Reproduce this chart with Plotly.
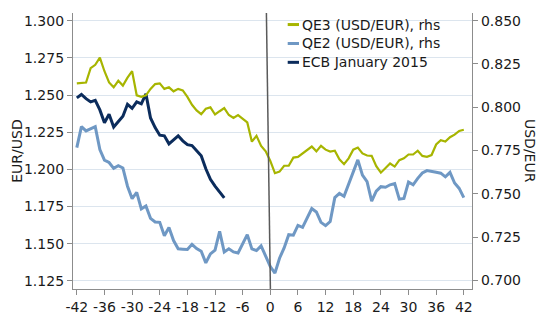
import plotly.graph_objects as go

# ---------------- data ----------------
weeks_qe = list(range(-42, 43))          # weeks relative to announcement
weeks_ecb = list(range(-42, -9))

qe3_usd_eur = [
    0.8138, 0.8139, 0.8143, 0.8226, 0.8245, 0.8287, 0.8208, 0.8143, 0.8115, 0.8153,
    0.8125, 0.8171, 0.8208, 0.8069, 0.8060, 0.8069, 0.8106, 0.8134, 0.8138, 0.8106,
    0.8115, 0.8092, 0.8106, 0.8097, 0.8060, 0.8014, 0.7982, 0.7960, 0.7991, 0.7999,
    0.7958, 0.7977, 0.7995, 0.7955, 0.7938, 0.7955, 0.7932, 0.7912, 0.7801, 0.7835,
    0.7777, 0.7745, 0.7690, 0.7619, 0.7628, 0.7662, 0.7662, 0.7709, 0.7713, 0.7734,
    0.7750, 0.7773, 0.7745, 0.7777, 0.7755, 0.7744, 0.7749, 0.7699, 0.7671, 0.7705,
    0.7755, 0.7767, 0.7733, 0.7721, 0.7719, 0.7660, 0.7622, 0.7647, 0.7675, 0.7657,
    0.7694, 0.7705, 0.7727, 0.7727, 0.7749, 0.7719, 0.7714, 0.7724, 0.7785, 0.7810,
    0.7802, 0.7827, 0.7842, 0.7863, 0.7870,
]

qe2_usd_eur = [
    0.7767, 0.7888, 0.7863, 0.7877, 0.7888, 0.7755, 0.7694, 0.7681, 0.7647, 0.7662,
    0.7649, 0.7544, 0.7472, 0.7508, 0.7413, 0.7430, 0.7358, 0.7337, 0.7335, 0.7258,
    0.7305, 0.7230, 0.7182, 0.7180, 0.7178, 0.7208, 0.7184, 0.7168, 0.7101, 0.7153,
    0.7175, 0.7283, 0.7164, 0.7182, 0.7164, 0.7158, 0.7211, 0.7264, 0.7182, 0.7172,
    0.7199, 0.7144, 0.7080, 0.7042, 0.7128, 0.7187, 0.7264, 0.7261, 0.7317, 0.7306,
    0.7357, 0.7415, 0.7395, 0.7335, 0.7316, 0.7340, 0.7478, 0.7502, 0.7486, 0.7560,
    0.7622, 0.7696, 0.7608, 0.7570, 0.7458, 0.7515, 0.7541, 0.7538, 0.7552, 0.7559,
    0.7469, 0.7473, 0.7568, 0.7552, 0.7589, 0.7620, 0.7634, 0.7631, 0.7624, 0.7619,
    0.7598, 0.7624, 0.7562, 0.7531, 0.7478,
]

ecb_eur_usd = [
    1.2481, 1.2504, 1.2476, 1.2454, 1.2465, 1.2400, 1.2314, 1.2371, 1.2285, 1.2318,
    1.2357, 1.2438, 1.2411, 1.2454, 1.2441, 1.2508, 1.2346, 1.2281, 1.2230, 1.2226,
    1.2172, 1.2199, 1.2226, 1.2192, 1.2166, 1.2160, 1.2124, 1.2092, 1.2004, 1.1933,
    1.1888, 1.1846, 1.1808,
]

x_ticks = list(range(-42, 43, 6))
left_ticks = [1.125, 1.150, 1.175, 1.200, 1.225, 1.250, 1.275, 1.300]
right_ticks = [0.700, 0.725, 0.750, 0.775, 0.800, 0.825, 0.850]

names = ["QE3 (USD/EUR), rhs", "QE2 (USD/EUR), rhs", "ECB January 2015"]
colors = ["#a7b500", "#6f98c4", "#0b2c5c"]

# ---------------- figure ----------------
FONT = "DejaVu Sans"
AXIS = "#8c8c8c"
GRID = "#dce5ee"
TXT = "#1a1a1a"

fig = go.Figure()
fig.add_trace(go.Scatter(x=weeks_qe, y=qe3_usd_eur, yaxis="y2", mode="lines",
                         name=names[0], line=dict(color=colors[0], width=2.2)))
fig.add_trace(go.Scatter(x=weeks_qe, y=qe2_usd_eur, yaxis="y2", mode="lines",
                         name=names[1], line=dict(color=colors[1], width=3)))
fig.add_trace(go.Scatter(x=weeks_ecb, y=ecb_eur_usd, yaxis="y", mode="lines",
                         name=names[2], line=dict(color=colors[2], width=3)))

fig.update_layout(
    width=550, height=327,
    margin=dict(l=73, r=78, t=13, b=27),
    paper_bgcolor="white", plot_bgcolor="white",
    showlegend=False,
    font=dict(family=FONT, size=14, color=TXT),
    xaxis=dict(range=[-42.83, 43.78], tickvals=x_ticks, ticktext=[str(t) for t in x_ticks],
               showgrid=False, zeroline=False, showline=True, linecolor=AXIS, linewidth=1.3,
               ticks="outside", ticklen=5, tickcolor=AXIS, tickwidth=1,
               tickfont=dict(family=FONT, size=14, color=TXT)),
    yaxis=dict(range=[1.11956, 1.30518], tickvals=left_ticks,
               ticktext=[f"{t:.3f}" for t in left_ticks],
               showgrid=True, gridcolor=GRID, gridwidth=1.3, zeroline=False,
               showline=True, linecolor=AXIS, linewidth=1.3,
               ticks="outside", ticklen=5, tickcolor=AXIS, tickwidth=1,
               tickfont=dict(family=FONT, size=14, color=TXT)),
    yaxis2=dict(range=[0.6950, 0.85444], tickvals=right_ticks,
                ticktext=[f"{t:.3f}" for t in right_ticks],
                overlaying="y", side="right", showgrid=False, zeroline=False,
                showline=True, linecolor=AXIS, linewidth=1.3,
                ticks="outside", ticklen=5, tickcolor=AXIS, tickwidth=1,
                tickfont=dict(family=FONT, size=14, color=TXT)),
)

# slightly slanted marker line at week 0
fig.add_shape(type="line", xref="x", yref="paper", x0=-0.85, y0=1.0, x1=0.02, y1=0.0,
              line=dict(color="#5a5a5a", width=1.5), layer="above")

# axis titles
fig.add_annotation(text="EUR/USD", xref="paper", yref="paper", x=-0.141, y=0.5,
                   xanchor="center", yanchor="middle",
                   textangle=-90, showarrow=False, font=dict(family=FONT, size=14, color=TXT))
fig.add_annotation(text="USD/EUR", xref="paper", yref="paper", x=1.1454, y=0.5,
                   xanchor="center", yanchor="middle",
                   textangle=90, showarrow=False, font=dict(family=FONT, size=14, color=TXT))

# legend (short line samples + labels)
PW, PH = 399.0, 287.0
rows_px = [25.0, 44.7, 64.3]
for name, col, ypx in zip(names, colors, rows_px):
    yp = (300.0 - ypx) / PH
    fig.add_shape(type="line", xref="paper", yref="paper",
                  x0=(287.7 - 73) / PW, x1=(299.0 - 73) / PW, y0=yp, y1=yp,
                  line=dict(color=col, width=3), layer="above")
    fig.add_annotation(text=name, xref="paper", yref="paper", x=(299.5 - 73) / PW, y=yp,
                       xanchor="left", yanchor="middle", showarrow=False,
                       font=dict(family=FONT, size=14, color=TXT))

fig.write_html("out.html")
